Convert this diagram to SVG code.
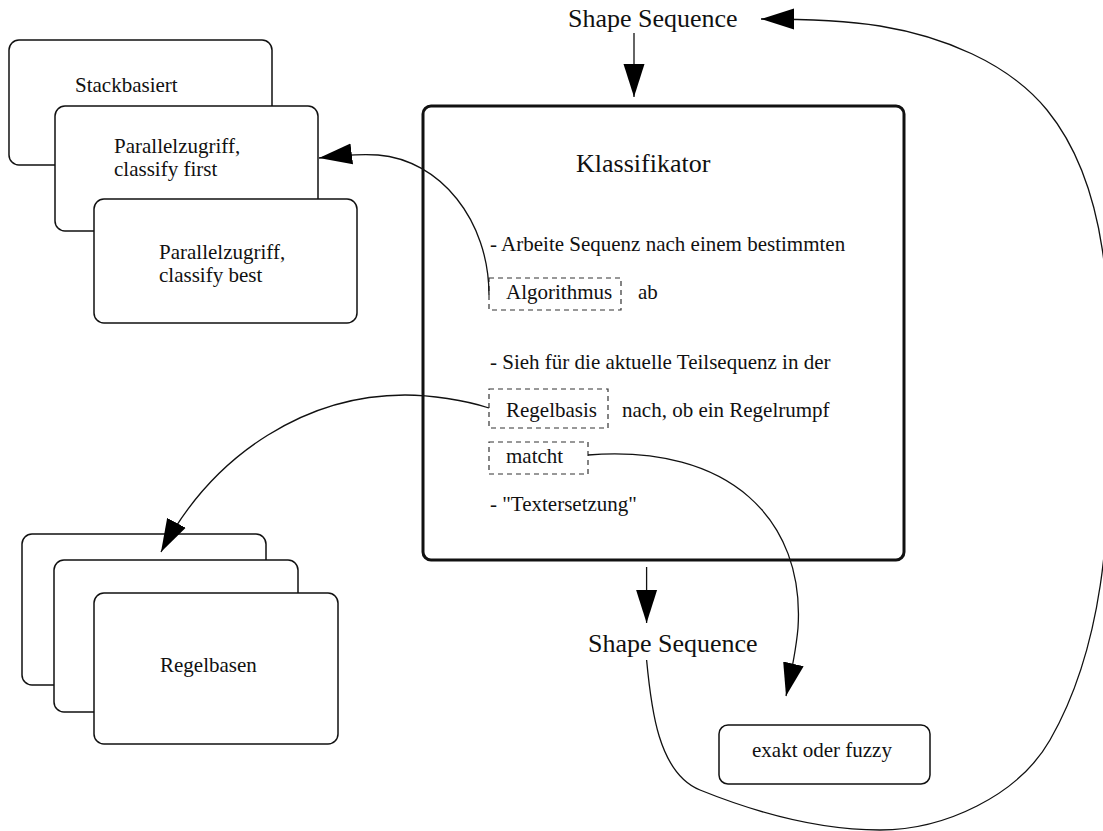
<svg xmlns="http://www.w3.org/2000/svg" width="1103" height="831" viewBox="0 0 1103 831">
<style>
.t{font-size:21px;}
.big{font-size:26px;}
.box{fill:#fff;stroke:#111;stroke-width:1.5;}
.main{fill:#fff;stroke:#111;stroke-width:3;}
.dash{fill:none;stroke:#333;stroke-width:1.2;stroke-dasharray:5,4;}
.conn{fill:none;stroke:#111;stroke-width:1.3;}
</style>
<defs>
<marker id="ah" markerUnits="userSpaceOnUse" markerWidth="34" markerHeight="22" viewBox="0 0 34 22" refX="33" refY="11" orient="auto">
<path d="M0,0.5 L33,11 L0,21.5 z" fill="#000"/>
</marker>
</defs>
<rect width="1103" height="831" fill="#fff"/>

<g font-family="Liberation Serif, Times New Roman, Times, serif" fill="#111">
<g id="stack-algorithms">
<g id="stackbasiert">
<rect class="box" x="9" y="40" width="263" height="125" rx="10"/>
<text class="t" x="75" y="92">Stackbasiert</text>
</g>
<g id="classify-first">
<rect class="box" x="55" y="106" width="263" height="125" rx="10"/>
<text class="t" x="114" y="153">Parallelzugriff,</text>
<text class="t" x="114" y="176">classify first</text>
</g>
<g id="classify-best">
<rect class="box" x="94" y="199" width="263" height="124" rx="10"/>
<text class="t" x="159" y="259">Parallelzugriff,</text>
<text class="t" x="159" y="282">classify best</text>
</g>
</g>

<g id="regelbasen-stack">
<rect class="box" x="22" y="534" width="244" height="151" rx="10"/>
<rect class="box" x="54" y="560" width="244" height="152" rx="10"/>
<g id="regelbasen">
<rect class="box" x="94" y="593" width="244" height="151" rx="10"/>
<text class="t" x="160" y="672">Regelbasen</text>
</g>
</g>

<g id="klassifikator">
<rect class="main" x="423" y="106" width="481" height="454" rx="8"/>
<text class="big" x="576" y="172">Klassifikator</text>
<text class="t" x="490" y="251">- Arbeite Sequenz nach einem bestimmten</text>
<g id="algorithmus">
<rect class="dash" x="489" y="278" width="132" height="32"/>
<text class="t" x="506" y="299">Algorithmus</text>
</g>
<text class="t" x="638" y="299">ab</text>
<text class="t" x="490" y="369">- Sieh für die aktuelle Teilsequenz in der</text>
<g id="regelbasis">
<rect class="dash" x="489" y="389" width="119" height="39"/>
<text class="t" x="506" y="417">Regelbasis</text>
</g>
<text class="t" x="622" y="417">nach, ob ein Regelrumpf</text>
<g id="matcht">
<rect class="dash" x="489" y="442" width="99" height="32"/>
<text class="t" x="506" y="463">matcht</text>
</g>
<text class="t" x="490" y="511">- "Textersetzung"</text>
</g>

<g id="shape-sequence-in">
<text class="big" x="568" y="27">Shape Sequence</text>
</g>
<g id="shape-sequence-out">
<text class="big" x="588" y="652">Shape Sequence</text>
</g>

<g id="exakt-fuzzy">
<rect class="box" x="719" y="725" width="211" height="59" rx="9"/>
<text class="t" x="752" y="757">exakt oder fuzzy</text>
</g>
</g>

<g id="connectors">
<path class="conn" marker-end="url(#ah)" d="M634,33 L634,97"/>
<path class="conn" marker-end="url(#ah)" d="M646.6,567 L646.6,623"/>
<path class="conn" marker-end="url(#ah)" d="M489,295 C489,220 440,160 378,155 C360,154 335,156 319,158"/>
<path class="conn" marker-end="url(#ah)" d="M489,408 C465,400 430,395 405,395 C310,395 215,450 161,552"/>
<path class="conn" marker-end="url(#ah)" d="M588,455 C730,444 805,520 798,628 C796,650 792,670 786,696"/>
<path class="conn" marker-end="url(#ah)" d="M646.6,660 C651,707 658,773 700,790 C757,813 819,830 880,830 C944,830 1018,796 1050,740 C1104,646 1110,528 1110,420 C1110,315 1113,191 1047,110 C1008,62 941,36 880,26 C840,19.6 800,19 761,19"/>
</g>
</svg>
